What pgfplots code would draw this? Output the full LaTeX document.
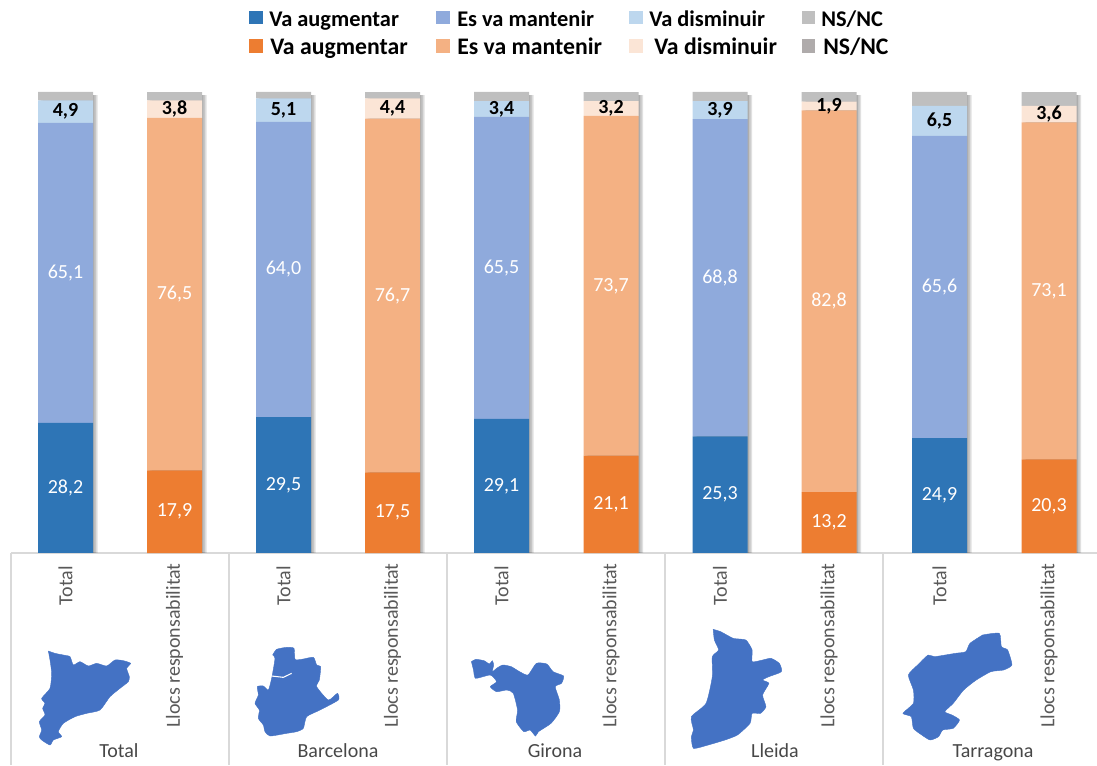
\documentclass[border=0pt]{standalone}
\usepackage{fontspec}
\setmainfont{Carlito}
\usepackage{pgfplots}
\usepackage{pgfplotstable}
\pgfplotsset{compat=1.18}

\definecolor{bluedark}{HTML}{2E75B6}
\definecolor{bluemid}{HTML}{8FAADC}
\definecolor{bluelight}{HTML}{BDD7EE}
\definecolor{orangedark}{HTML}{ED7D31}
\definecolor{orangemid}{HTML}{F4B183}
\definecolor{orangelight}{HTML}{FBE5D6}
\definecolor{nsgray}{HTML}{BFBFBF}
\definecolor{nsgraydark}{HTML}{AFABAB}
\definecolor{mapblue}{HTML}{4472C4}
\definecolor{frameline}{HTML}{D9D9D9}
\definecolor{ticktext}{HTML}{595959}

% percentages per province: all respondents
\pgfplotstableread{
x aug man dis ns
65.5 28.2 65.1 4.9 1.8
283.5 29.5 64.0 5.1 1.4
501.5 29.1 65.5 3.4 2.0
720 25.3 68.8 3.9 2.0
939.5 24.9 65.6 6.5 3.0
}\totaltable
% percentages per province: positions of responsibility
\pgfplotstableread{
x aug man dis ns
174.5 17.9 76.5 3.8 1.8
392.5 17.5 76.7 4.4 1.4
611 21.1 73.7 3.2 2.0
829 13.2 82.8 1.9 2.1
1049 20.3 73.1 3.6 3.0
}\resptable

\pgfplotsset{
  px frame/.style={
    at={(0,0)}, anchor=south west, scale only axis,
    width=822.75pt, height=573.75pt, xmin=0, xmax=1097, clip=false},
  bar frame/.style={
    px frame, ymin=-45.987, ymax=119.957,
    ybar stacked, bar width=41.25pt,
    axis x line=center, axis y line=none,
    x axis line style={draw=none,-},
    major tick length=0pt,
    /pgf/number format/.cd, use comma, fixed, fixed zerofill, precision=1, assume math mode=true,
    /pgfplots/.cd,
    xtick=data},
  seg/.style 2 args={
    fill=#1, draw=none,
    point meta=rawy,
    nodes near coords,
    every node near coord/.style={anchor=center, font=#2}},
  province/.style={fill=mapblue, draw=mapblue, line width=0.3pt, smooth, tension=0.35},
}

\begin{document}
\begin{tikzpicture}
\path[use as bounding box] (0,0) rectangle (822.75pt,573.75pt);

% frame of the two-level category axis, and the province outlines
\begin{axis}[px frame, ymin=0, ymax=765, y dir=reverse, hide axis]
\addplot[frameline, line width=1pt] coordinates {(11,553) (1097,553)};
\addplot[frameline, line width=1pt] coordinates {(11,553) (11,765)};
\addplot[frameline, line width=1pt] coordinates {(229,553) (229,765)};
\addplot[frameline, line width=1pt] coordinates {(447,553) (447,765)};
\addplot[frameline, line width=1pt] coordinates {(665,553) (665,765)};
\addplot[frameline, line width=1pt] coordinates {(883,553) (883,765)};

% Catalunya
\addplot[province] table[x expr=\thisrowno{0}/3, y expr=\thisrowno{1}/3+540] {
145 333
165 340
190 345
210 350
220 375
240 365
265 378
290 370
320 378
345 360
370 362
392 370
380 385
388 410
385 425
360 445
330 470
300 510
260 520
225 530
190 550
175 575
185 590
160 600
150 615
125 600
118 590
125 570
118 545
135 525
128 505
135 490
125 475
150 445
155 400
150 360
145 333
};
% Barcelona
\addplot[province] table[x expr=\thisrowno{0}/3, y expr=\thisrowno{1}/3+540] {
818 345
830 328
860 322
882 325
885 358
905 358
940 352
950 375
962 380
958 420
950 440
985 480
1012 460
1015 480
960 510
920 530
910 565
890 575
860 580
810 588
795 575
790 555
775 535
778 510
765 490
775 465
772 440
790 438
805 450
815 415
825 355
818 345
};
\addplot[white, line width=0.8pt] table[x expr=\thisrowno{0}/3, y expr=\thisrowno{1}/3+540] {
815 408
850 412
875 400
};
% Girona
\addplot[province] table[x expr=\thisrowno{0}/2.387+440, y expr=\thisrowno{1}/3+540] {
75 365
85 358
105 362
118 372
125 362
128 375
125 395
135 385
150 375
170 380
190 395
210 405
230 370
255 372
270 395
295 408
290 430
275 440
285 480
285 515
265 550
235 575
228 588
215 570
200 575
182 545
185 510
175 460
160 450
135 455
120 440
135 425
120 405
85 415
80 390
75 365
};
% Lleida
\addplot[province] table[x expr=\thisrowno{0}/2.387+440, y expr=\thisrowno{1}/3+540] {
652 268
670 275
700 295
730 300
745 330
745 365
770 360
790 355
810 370
815 395
785 410
770 420
785 430
770 465
778 500
765 520
745 520
740 550
710 585
680 600
640 615
605 625
600 590
605 570
600 530
635 490
650 410
650 350
665 330
655 300
652 268
};
% Tarragona
\addplot[province] table[x expr=\thisrowno{0}/2.387+440, y expr=\thisrowno{1}/3+540] {
1295 285
1335 280
1340 320
1355 330
1365 375
1345 390
1315 395
1280 420
1250 450
1225 490
1205 515
1222 525
1240 540
1225 565
1200 570
1190 590
1170 600
1150 585
1130 565
1125 530
1105 520
1130 490
1130 450
1118 405
1140 375
1165 345
1180 350
1230 340
1255 335
1265 310
1295 285
};

% province names
\tikzset{prov name/.style={anchor=base, text=black!72, font=\fontsize{15}{16}\selectfont}}
\node[prov name] at (axis cs:119,757) {Total};
\node[prov name] at (axis cs:338,757) {Barcelona};
\node[prov name] at (axis cs:555,757) {Girona};
\node[prov name] at (axis cs:775,757) {Lleida};
\node[prov name] at (axis cs:993,757) {Tarragona};

% legend, two rows
\fill[bluedark] (axis cs:249,11) rectangle (axis cs:263,24);
\fill[bluemid] (axis cs:436,11) rectangle (axis cs:450,24);
\fill[bluelight] (axis cs:629,11) rectangle (axis cs:643,24);
\fill[nsgray] (axis cs:802,11) rectangle (axis cs:815,24);
\fill[orangedark] (axis cs:249,39) rectangle (axis cs:263,53);
\fill[orangemid] (axis cs:436,39) rectangle (axis cs:450,53);
\fill[orangelight] (axis cs:629,39) rectangle (axis cs:643,53);
\fill[nsgraydark] (axis cs:802,39) rectangle (axis cs:815,53);
\tikzset{leg a/.style={anchor=base west, inner sep=0pt, font=\fontsize{16.8}{17}\selectfont\bfseries},
         leg b/.style={anchor=base west, inner sep=0pt, font=\fontsize{17.8}{18}\selectfont\bfseries}}
\node[leg a] at (axis cs:269,26) {Va augmentar};
\node[leg a] at (axis cs:457,26) {Es va mantenir};
\node[leg a] at (axis cs:649,26) {Va disminuir};
\node[leg a] at (axis cs:821,26) {NS/NC};
\node[leg b] at (axis cs:270,54) {Va augmentar};
\node[leg b] at (axis cs:457,54) {Es va mantenir};
\node[leg b] at (axis cs:654,54) {Va disminuir};
\node[leg b] at (axis cs:823,54) {NS/NC};
\end{axis}

% soft shadows to the right of each column
\begin{axis}[px frame, ymin=-45.987, ymax=119.957, hide axis, ybar=0pt, bar width=41.25pt]
\addplot[fill=black, fill opacity=0.12, draw=none, bar shift=3.4pt] table[x=x, y expr=99.3] {\totaltable};
\addplot[fill=black, fill opacity=0.12, draw=none, bar shift=3.4pt] table[x=x, y expr=99.3] {\resptable};
\addplot[fill=black, fill opacity=0.12, draw=none, bar shift=2.25pt] table[x=x, y expr=99.3] {\totaltable};
\addplot[fill=black, fill opacity=0.12, draw=none, bar shift=2.25pt] table[x=x, y expr=99.3] {\resptable};
\addplot[fill=black, fill opacity=0.12, draw=none, bar shift=1.1pt] table[x=x, y expr=99.3] {\totaltable};
\addplot[fill=black, fill opacity=0.12, draw=none, bar shift=1.1pt] table[x=x, y expr=99.3] {\resptable};
\end{axis}

% columns for all respondents
\begin{axis}[bar frame,
  xticklabels={Total,Total,Total,Total,Total},
  xticklabel style={rotate=90, anchor=east, text=ticktext, inner sep=0pt, xshift=-9.75pt,
    font=\fontsize{15}{16}\selectfont}]
\addplot[seg={bluedark}{\color{white}\fontsize{15}{16}\selectfont}] table[x=x,y=aug] {\totaltable};
\addplot[seg={bluemid}{\color{white}\fontsize{15}{16}\selectfont}] table[x=x,y=man] {\totaltable};
\addplot[seg={bluelight}{\color{black}\bfseries\fontsize{15}{16}\selectfont}] table[x=x,y=dis] {\totaltable};
\addplot[fill=nsgray, draw=none] table[x=x,y=ns] {\totaltable};
\end{axis}

% columns for positions of responsibility
\begin{axis}[bar frame,
  xticklabels={Llocs responsabilitat,Llocs responsabilitat,Llocs responsabilitat,Llocs responsabilitat,Llocs responsabilitat},
  xticklabel style={rotate=90, anchor=east, text=ticktext, inner sep=0pt, xshift=-7.5pt,
    font=\fontsize{15}{16}\selectfont}]
\addplot[seg={orangedark}{\color{white}\fontsize{15}{16}\selectfont}] table[x=x,y=aug] {\resptable};
\addplot[seg={orangemid}{\color{white}\fontsize{15}{16}\selectfont}] table[x=x,y=man] {\resptable};
\addplot[seg={orangelight}{\color{black}\bfseries\fontsize{15}{16}\selectfont}] table[x=x,y=dis] {\resptable};
\addplot[fill=nsgray, draw=none] table[x=x,y=ns] {\resptable};
\end{axis}
\end{tikzpicture}
\end{document}
